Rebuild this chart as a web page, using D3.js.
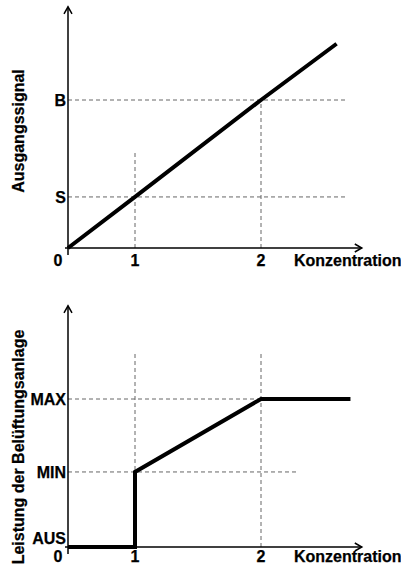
<!DOCTYPE html>
<html lang="de">
<head>
<meta charset="UTF-8">
<title>Konzentration – Ausgangssignal / Belüftung</title>
<script src="https://d3js.org/d3.v7.min.js"></script>
<style>
  html, body { margin: 0; padding: 0; background: #fff; }
  svg text { font-family: "Liberation Sans", Arial, sans-serif; font-weight: bold; fill: #000; stroke: #000; stroke-width: 0.25px; }
</style>
</head>
<body>
<svg id="chart"></svg>
<script>
// x axis: concentration thresholds (schematic, not proportional)
const xTickValues = [0, 1, 2];
const xTickLabels = ["0", "1", "2"];
const xAxisLabel = "Konzentration";

// upper panel: sensor output signal
const topTitle = "Ausgangssignal";
const topLevels = [0.345, 1.0];
const topLevelLabels = ["S", "B"];
const topLineX = [0, 1, 2, 2.6];
const topLineY = [0, 0.345, 1.0, 1.38];
// guide lines: [x1, y1, x2, y2]
const topGuides = [
  [0, 0.345, 2.67, 0.345],
  [0, 1.0, 2.67, 1.0],
  [1, 0, 1, 0.655],
  [2, 0, 2, 1.0]
];

// lower panel: ventilation power
const botTitle = "Leistung der Belüftungsanlage";
const botLevels = [0, 0.507, 1.0];
const botLevelLabels = ["AUS", "MIN", "MAX"];
const botLineX = [0, 1, 1, 2, 2.71];
const botLineY = [0, 0, 0.507, 1.0, 1.0];
const botGuides = [
  [0, 1.0, 2, 1.0],
  [0, 0.507, 2.28, 0.507],
  [1, 0, 1, 1.31],
  [2, 0, 2, 1.31]
];

const xAxisEnd = 2.8, yAxisTop = 1.63;

const width = 401, height = 566;
const svg = d3.select('#chart').attr('width', width).attr('height', height);

// piecewise x scale: 0 -> 1 is shorter than 1 -> 2 in the drawing
const x = d3.scaleLinear().domain([0, 1, 2]).range([68, 135, 261]);

function panel(zeroY, title, titleY, levels, levelLabels, lx, ly, guides) {
  const y = d3.scaleLinear().domain([0, 1]).range([zeroY, zeroY - 148]);
  const g = svg.append('g');
  const labelY = Math.min(y(0) + 18, height - 4);

  // dashed guides
  g.selectAll('line.guide')
    .data(guides)
    .enter().append('line')
    .attr('class', 'guide')
    .attr('x1', d => x(d[0])).attr('y1', d => y(d[1]))
    .attr('x2', d => x(d[2])).attr('y2', d => y(d[3]))
    .attr('stroke', '#666')
    .attr('stroke-width', 1)
    .attr('stroke-dasharray', '4,3');

  // axes with open arrowheads
  g.append('line')
    .attr('x1', x(0) - 3).attr('y1', y(0))
    .attr('x2', x(xAxisEnd)).attr('y2', y(0))
    .attr('stroke', '#000').attr('stroke-width', 1.5);
  g.append('path')
    .attr('d', `M${x(xAxisEnd) - 7},${y(0) - 4}L${x(xAxisEnd)},${y(0)}L${x(xAxisEnd) - 7},${y(0) + 4}`)
    .attr('fill', 'none').attr('stroke', '#000').attr('stroke-width', 1.5);
  g.append('line')
    .attr('x1', x(0)).attr('y1', y(0) + 7)
    .attr('x2', x(0)).attr('y2', y(yAxisTop))
    .attr('stroke', '#000').attr('stroke-width', 1.5);
  g.append('path')
    .attr('d', `M${x(0) - 4},${y(yAxisTop) + 7}L${x(0)},${y(yAxisTop)}L${x(0) + 4},${y(yAxisTop) + 7}`)
    .attr('fill', 'none').attr('stroke', '#000').attr('stroke-width', 1.5);

  // characteristic curve
  const pts = lx.map((v, i) => [v, ly[i]]);
  g.append('path')
    .datum(pts)
    .attr('d', d3.line().x(d => x(d[0])).y(d => y(d[1])))
    .attr('fill', 'none')
    .attr('stroke', '#000')
    .attr('stroke-width', 4)
    .attr('stroke-linejoin', 'miter');

  // y level labels
  g.selectAll('text.level')
    .data(levels)
    .enter().append('text')
    .attr('class', 'level')
    .attr('x', x(0) - 2)
    .attr('y', d => Math.min(y(d), y(0) - 9))
    .attr('dy', '0.36em')
    .attr('text-anchor', 'end')
    .style('font-size', '16px')
    .text((d, i) => levelLabels[i]);

  // x tick labels
  g.selectAll('text.xtick')
    .data(xTickValues)
    .enter().append('text')
    .attr('class', 'xtick')
    .attr('x', d => d === 0 ? x(d) - 10 : x(d))
    .attr('y', labelY)
    .attr('text-anchor', 'middle')
    .style('font-size', '16px')
    .text((d, i) => xTickLabels[i]);

  g.append('text')
    .attr('x', 294)
    .attr('y', labelY)
    .style('font-size', '16px')
    .text(xAxisLabel);

  // y title
  g.append('text')
    .attr('transform', `translate(24,${titleY}) rotate(-90)`)
    .attr('text-anchor', 'middle')
    .style('font-size', '16px')
    .text(title);
}

panel(248, topTitle, 131, topLevels, topLevelLabels, topLineX, topLineY, topGuides);
panel(547, botTitle, 447, botLevels, botLevelLabels, botLineX, botLineY, botGuides);
</script>
</body>
</html>
